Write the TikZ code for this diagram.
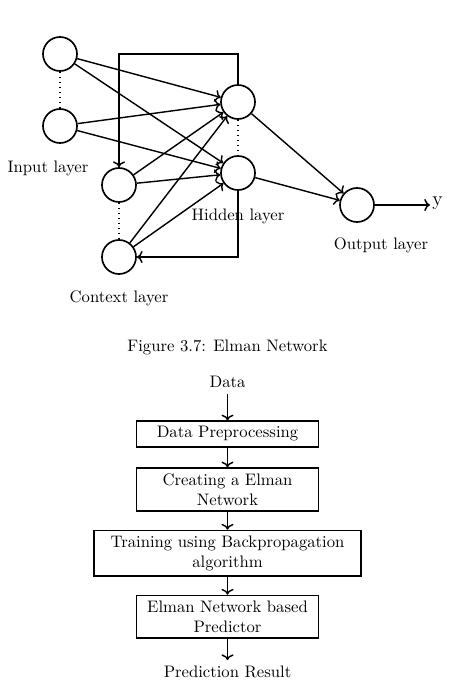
\documentclass[tikz,border=0pt]{standalone}
\usetikzlibrary{arrows.meta}
\begin{document}
\begin{tikzpicture}[x=0.6pt,y=-0.6pt,
  neuron/.style={circle,draw,line width=1pt,minimum size=20.4pt,inner sep=0pt},
  conn/.style={->,line width=0.85pt},
  dots/.style={dotted,line width=1pt},
  fbox/.style={draw,line width=1pt,align=center,inner xsep=0.6pt,inner ysep=3.2pt},
  narrow/.style={fbox,text width=108pt},
  wide/.style={fbox,text width=159pt}]
\useasboundingbox (0,0) rectangle (449,687);
% network
\node[neuron] (i1) at (60,54) {};
\node[neuron] (i2) at (60,126) {};
\node[neuron] (c1) at (119,185) {};
\node[neuron] (c2) at (119,257) {};
\node[neuron] (h1) at (238,102) {};
\node[neuron] (h2) at (238,173) {};
\node[neuron] (o) at (357,205) {};
\coordinate (yend) at (430,205);
\node[anchor=west,inner sep=0pt] (ylab) at (432,203) {\large y};
\coordinate (t1) at (238,54);
\coordinate (t2) at (119,54);
\coordinate (b1) at (238,257);
\draw[dots] (i1) -- (i2);
\draw[dots] (c1) -- (c2);
\draw[dots] (h1) -- (h2);
\foreach \s in {i1,i2,c1,c2}{
  \draw[conn] (\s) -- (h1);
  \draw[conn] (\s) -- (h2);
}
\draw[conn] (h1) -- (o);
\draw[conn] (h2) -- (o);
\draw[conn] (o) -- (yend);
\draw[conn] (h1.north) -- (t1) -- (t2) -- (c1.north);
\draw[conn] (h2.south) -- (b1) -- (c2.east);
\node (linput) at (48,168) {Input layer};
\node (lhidden) at (238,216) {Hidden layer};
\node (loutput) at (381,245) {Output layer};
\node (lcontext) at (119,298) {Context layer};
\node (caption) at (227.5,347) {Figure 3.7: Elman Network};
% flowchart
\node (data) at (227.5,382) {Data};
\node[narrow] (f1) at (227.5,434) {Data Preprocessing};
\node[narrow] (f2) at (227.5,489.5) {Creating a Elman\\Network};
\node[wide] (f3) at (227.5,553.3) {Training using Backpropagation\\algorithm};
\node[narrow] (f4) at (227.5,616.7) {Elman Network based\\Predictor};
\node (res) at (227.5,672) {Prediction Result};
\draw[conn] (data) -- (f1);
\draw[conn] (f1) -- (f2);
\draw[conn] (f2) -- (f3);
\draw[conn] (f3) -- (f4);
\draw[conn] (f4) -- (res);
\end{tikzpicture}
\end{document}
